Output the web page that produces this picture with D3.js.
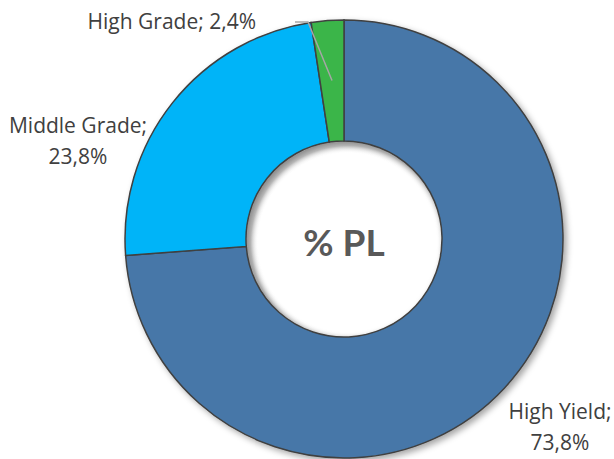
<!DOCTYPE html>
<html>
<head>
<meta charset="utf-8">
<script src="https://cdn.jsdelivr.net/npm/d3@7"></script>
<style>
  body { margin: 0; background: #fff; }
  svg { display: block; }
</style>
</head>
<body>
<svg id="chart" width="614" height="459"></svg>
<script>
// data
var categories = ["High Yield", "Middle Grade", "High Grade"];
var values = [73.8, 23.8, 2.4];
var colors = ["#4677A8", "#00B4F8", "#3AB54A"];
var centerLabel = "% PL";

var svg = d3.select("#chart");
var cx = 344, cy = 239;
var outerR = 219, innerR = 98;

var defs = svg.append("defs");
var shadow = defs.append("filter").attr("id", "shadow")
    .attr("x", "-10%").attr("y", "-10%").attr("width", "120%").attr("height", "120%");
shadow.append("feDropShadow")
    .attr("dx", 3).attr("dy", 3).attr("stdDeviation", 3)
    .attr("flood-color", "#000").attr("flood-opacity", 0.35);

var pie = d3.pie().sort(null).value(function(d){ return d; });
var arcs = pie(values);

var arc = d3.arc().innerRadius(innerR).outerRadius(outerR);

var g = svg.append("g").attr("transform", "translate(" + cx + "," + cy + ")");

g.append("g").attr("filter", "url(#shadow)")
  .selectAll("path")
  .data(arcs)
  .enter().append("path")
    .attr("d", arc)
    .attr("fill", function(d, i){ return colors[i]; })
    .attr("stroke", "#404040")
    .attr("stroke-width", 1.5);

// inner shadow inside the hole
var inner = defs.append("radialGradient").attr("id", "holeShade")
    .attr("cx", "52%").attr("cy", "52%").attr("r", "50%");
inner.append("stop").attr("offset", "92%").attr("stop-color", "#fff").attr("stop-opacity", 0);
inner.append("stop").attr("offset", "100%").attr("stop-color", "#000").attr("stop-opacity", 0.18);
g.append("circle").attr("r", innerR - 0.75).attr("fill", "url(#holeShade)");

// leader line for the small slice
var small = arcs[2];
var midA = (small.startAngle + small.endAngle) / 2;
var p0 = [Math.sin(midA) * (outerR - 60), -Math.cos(midA) * (outerR - 60)];
var p1 = [-36, -217];
var p2 = [-49, -217];
g.append("polyline")
  .attr("points", [p0, p1, p2].map(function(p){ return p.join(","); }).join(" "))
  .attr("fill", "none")
  .attr("stroke", "#A6A6A6")
  .attr("stroke-width", 1.5);

// labels
var labelStyle = function(sel){
  sel.attr("font-family", "'Open Sans', sans-serif")
     .attr("font-size", 21)
     .attr("fill", "#404040");
};

function fmt(v){ return String(v).replace(".", ",") + "%"; }

svg.append("text").call(labelStyle)
  .attr("x", 256).attr("y", 29).attr("text-anchor", "end")
  .text(categories[2] + "; " + fmt(values[2]));

var mg = svg.append("text").call(labelStyle).attr("text-anchor", "middle");
mg.append("tspan").attr("x", 78).attr("y", 133).text(categories[1] + ";");
mg.append("tspan").attr("x", 78).attr("y", 164).text(fmt(values[1]));

var hy = svg.append("text").call(labelStyle).attr("text-anchor", "middle");
hy.append("tspan").attr("x", 560).attr("y", 419).text(categories[0] + ";");
hy.append("tspan").attr("x", 560).attr("y", 450).text(fmt(values[0]));

g.append("text")
  .attr("text-anchor", "middle")
  .attr("y", 17)
  .attr("font-family", "Lato, sans-serif")
  .attr("font-weight", "bold")
  .attr("font-size", 37)
  .attr("fill", "#595959")
  .text(centerLabel);
</script>
</body>
</html>
